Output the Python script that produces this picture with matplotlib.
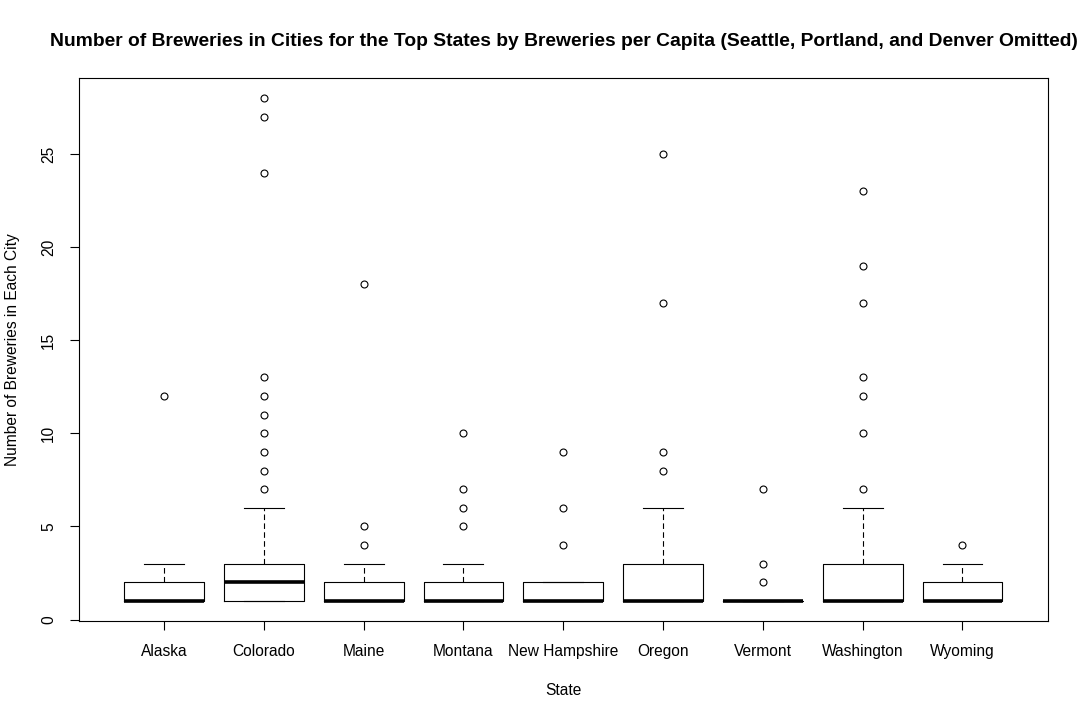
import matplotlib
matplotlib.use('Agg')
import matplotlib.pyplot as plt

plt.rcParams['font.family'] = ['Liberation Sans', 'DejaVu Sans']

# box statistics
states = ['Alaska', 'Colorado', 'Maine', 'Montana', 'New Hampshire',
          'Oregon', 'Vermont', 'Washington', 'Wyoming']
whis_lo = [1, 1, 1, 1, 1, 1, 1, 1, 1]
q1 = [1, 1, 1, 1, 1, 1, 1, 1, 1]
median = [1, 2, 1, 1, 1, 1, 1, 1, 1]
q3 = [2, 3, 2, 2, 2, 3, 1, 3, 2]
whis_hi = [3, 6, 3, 3, 2, 6, 1, 6, 3]
outliers = [
    [12],
    [7, 8, 9, 10, 11, 12, 13, 24, 27, 28],
    [4, 5, 18],
    [5, 6, 7, 10],
    [4, 6, 9],
    [8, 9, 17, 25],
    [2, 3, 7],
    [7, 10, 12, 13, 17, 19, 23],
    [4],
]

stats = []
for i in range(len(states)):
    stats.append({'label': states[i], 'whislo': whis_lo[i], 'q1': q1[i],
                  'med': median[i], 'q3': q3[i], 'whishi': whis_hi[i],
                  'fliers': outliers[i]})

fig = plt.figure(figsize=(10.89, 7.19), dpi=100)
ax = fig.add_axes([79 / 1089, 1 - 621 / 719, (1048 - 79) / 1089, (621 - 78) / 719])

ax.bxp(stats, positions=range(1, len(states) + 1), widths=0.8,
       boxprops=dict(color='black', linewidth=0.8),
       medianprops=dict(color='black', linewidth=2.6, solid_capstyle='butt'),
       whiskerprops=dict(color='black', linewidth=0.8, linestyle=(0, (5, 3))),
       capprops=dict(color='black', linewidth=0.8),
       capwidths=0.4,
       flierprops=dict(marker='o', markerfacecolor='none', markeredgecolor='black',
                       markersize=5, markeredgewidth=0.8))

ax.set_xlim(0.148, 9.857)
ax.set_ylim(-0.08, 29.08)
ax.set_yticks([0, 5, 10, 15, 20, 25])
ax.tick_params(axis='y', labelrotation=90, length=6.5, width=0.8, labelsize=11.2, pad=10)
ax.tick_params(axis='x', length=6.5, width=0.8, labelsize=11.2, pad=10)
for lab in ax.get_yticklabels():
    lab.set_va('center')
for s in ax.spines.values():
    s.set_linewidth(0.8)

ax.set_xlabel('State', fontsize=11.2, labelpad=17)
ax.set_ylabel('Number of Breweries in Each City', fontsize=11.2, labelpad=15)
fig.text(563.5 / 1089, 1 - 41 / 719,
         'Number of Breweries in Cities for the Top States by Breweries per Capita (Seattle, Portland, and Denver Omitted)',
         ha='center', va='center', fontsize=13.9, fontweight='bold')

fig.savefig('out.png', dpi=100)
